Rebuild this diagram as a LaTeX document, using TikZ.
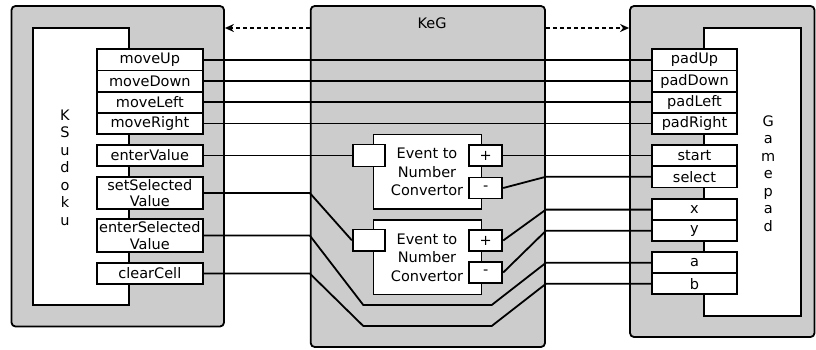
\documentclass[tikz,border=0pt]{standalone}
\usepackage{fontspec}
\setmainfont{DejaVu Sans}
\usetikzlibrary{arrows.meta}
\definecolor{panelgray}{RGB}{204,204,204}
\newcommand\rnode[7]{\node[#1,minimum width={#5-#3},minimum height={#6-#4}] (#2) at ({(#3+#5)/2},{(#4+#6)/2}) {#7};}
\begin{document}
\begin{tikzpicture}[x=1pt,y=-1pt,line width=1.8pt,
  panel/.style={draw,fill=panelgray,rounded corners=4pt,inner sep=0pt},
  innerbox/.style={draw,fill=white,inner sep=0pt},
  port/.style={draw,fill=white,inner sep=0pt,align=center,font=\fontsize{14.5}{16.5}\selectfont},
  lbl/.style={inner sep=0pt,align=center,font=\fontsize{14.5}{18.5}\selectfont},
  vlbl/.style={inner sep=0pt,align=center,font=\fontsize{14.5}{17.5}\selectfont},
  wire/.style={draw},
  dasharrow/.style={dash pattern=on 4pt off 3pt,-{Stealth[length=9pt,width=8pt]}}]
\useasboundingbox (0,0) rectangle (816,349);
% panels
\rnode{panel}{lp}{11.5}{6}{224}{326.5}{}
\rnode{panel}{mp}{310.7}{6}{545}{347}{}
\rnode{panel}{rp}{630}{6}{814.5}{337}{}
% inner boxes
\rnode{innerbox}{ks}{33}{28}{128.7}{305}{}
\rnode{innerbox}{gp}{704.3}{28}{801}{315.7}{}
\node[vlbl] (kslbl) at (65,167.5) {K\\S\\u\\d\\o\\k\\u};
\node[vlbl] (gplbl) at (768.3,173.3) {G\\a\\m\\e\\p\\a\\d};
\node[lbl] (keg) at (432,23) {KeG};
% converters
\rnode{innerbox}{c1}{373.5}{134.5}{481.5}{209.3}{}
\rnode{innerbox}{c2}{373.5}{220}{481.5}{294.5}{}
\node[lbl] (c1lbl) at (427,172) {Event to\\Number\\Convertor};
\node[lbl] (c2lbl) at (427,257.5) {Event to\\Number\\Convertor};
\rnode{port}{in1}{352.7}{144.5}{385}{166.5}{}
\rnode{port}{plus1}{469.3}{145}{502.3}{166}{+}
\rnode{port}{minus1}{469.3}{177.5}{502.3}{198.5}{-}
\rnode{port}{in2}{352.7}{229.5}{385}{251}{}
\rnode{port}{plus2}{469.3}{230}{502.3}{251}{+}
\rnode{port}{minus2}{469.3}{262}{502.3}{283}{-}
% left ports
\rnode{port}{moveUp}{96.7}{49.3}{203}{70.5}{moveUp}
\rnode{port}{moveDown}{96.7}{70.5}{203}{91.7}{moveDown}
\rnode{port}{moveLeft}{96.7}{91.7}{203}{112.9}{moveLeft}
\rnode{port}{moveRight}{96.7}{112.9}{203}{134.1}{moveRight}
\rnode{port}{enterValue}{96.7}{145}{203}{166}{enterValue}
\rnode{port}{setSel}{96.7}{177}{203}{209}{setSelected\\Value}
\rnode{port}{enterSel}{96.7}{219}{203}{252}{enterSelected\\Value}
\rnode{port}{clearCell}{96.7}{263}{203}{284}{clearCell}
% right ports
\rnode{port}{padUp}{651.7}{49.3}{737.3}{70.5}{padUp}
\rnode{port}{padDown}{651.7}{70.5}{737.3}{91.7}{padDown}
\rnode{port}{padLeft}{651.7}{91.7}{737.3}{112.9}{padLeft}
\rnode{port}{padRight}{651.7}{112.9}{737.3}{134.1}{padRight}
\rnode{port}{start}{651.7}{145}{737.3}{166}{start}
\rnode{port}{select}{651.7}{166}{737.3}{187.5}{select}
\rnode{port}{xb}{651.7}{199}{737.3}{220.2}{x}
\rnode{port}{yb}{651.7}{220.2}{737.3}{241.3}{y}
\rnode{port}{ab}{651.7}{252.3}{737.3}{273.3}{a}
\rnode{port}{bb}{651.7}{273.3}{737.3}{294.3}{b}
% bend coordinates
\coordinate (ay) at (0,28);
\coordinate (es1) at (363.3,305);
\coordinate (es2) at (491.7,305);
\coordinate (cc1) at (363.3,326);
\coordinate (cc2) at (491.7,326);
% wires
\draw[wire] (moveUp.east) -- (padUp.west);
\draw[wire] (moveDown.east) -- (padDown.west);
\draw[wire] (moveLeft.east) -- (padLeft.west);
\draw[wire] (moveRight.east) -- (padRight.west);
\draw[wire] (enterValue.east) -- (in1.west);
\draw[wire] (plus1.east) -- (start.west);
\draw[wire] (minus1.east) -- (mp.east |- select.west) -- (select.west);
\draw[wire] (setSel.east) -- (mp.west |- setSel.east) -- (in2.west);
\draw[wire] (enterSel.east) -- (mp.west |- enterSel.east) -- (es1) -- (es2) -- (mp.east |- ab.west) -- (ab.west);
\draw[wire] (clearCell.east) -- (mp.west |- clearCell.east) -- (cc1) -- (cc2) -- (mp.east |- bb.west) -- (bb.west);
\draw[wire] (plus2.east) -- (mp.east |- xb.west) -- (xb.west);
\draw[wire] (minus2.east) -- (mp.east |- yb.west) -- (yb.west);
% dashed arrows
\draw[dasharrow] (mp.west |- ay) -- (lp.east |- ay);
\draw[dasharrow] (mp.east |- ay) -- (rp.west |- ay);
\end{tikzpicture}
\end{document}
